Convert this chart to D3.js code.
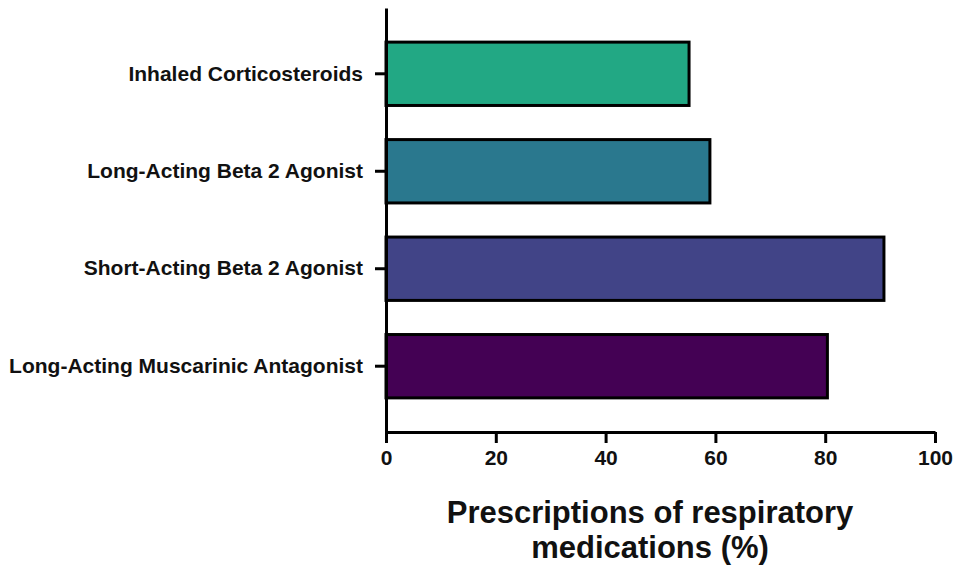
<!DOCTYPE html>
<html>
<head>
<meta charset="utf-8">
<script src="https://cdn.jsdelivr.net/npm/d3@7"></script>
<style>
  html, body { margin: 0; padding: 0; background: #fff; }
  svg { display: block; font-family: "Liberation Sans", Arial, sans-serif; }
</style>
</head>
<body>
<svg id="chart" width="955" height="568"></svg>
<script>
const categories = [
  "Inhaled Corticosteroids",
  "Long-Acting Beta 2 Agonist",
  "Short-Acting Beta 2 Agonist",
  "Long-Acting Muscarinic Antagonist"
];
const values = [55.2, 59.0, 90.7, 80.4];
const colors = ["#22a884", "#2a788e", "#414487", "#440154"];
const xTicks = [0, 20, 40, 60, 80, 100];
const titleLines = ["Prescriptions of respiratory", "medications (%)"];

const svg = d3.select("#chart");
const x0 = 386, x1 = 935, yTop = 8, yBottom = 432;

const x = d3.scaleLinear().domain([0, 100]).range([x0, x1]);
const y = d3.scaleBand().domain(categories).range([yTop, yBottom]).padding(0.35);

// bars
svg.append("g").selectAll("rect")
  .data(categories)
  .join("rect")
  .attr("x", x(0))
  .attr("y", d => y(d))
  .attr("width", (d, i) => x(values[i]) - x(0))
  .attr("height", y.bandwidth())
  .attr("fill", (d, i) => colors[i])
  .attr("stroke", "#000")
  .attr("stroke-width", 3);

// y axis
const gy = svg.append("g")
  .attr("transform", `translate(${x0},0)`)
  .call(d3.axisLeft(y).tickSize(11).tickSizeOuter(0).tickPadding(12));
gy.attr("font-family", "'Liberation Sans', Arial, sans-serif");
gy.select(".domain").attr("stroke-width", 3).attr("stroke", "#000");
gy.selectAll(".tick line").attr("stroke-width", 3).attr("stroke", "#000");
gy.selectAll(".tick text")
  .attr("font-size", 21).attr("font-weight", "bold").attr("fill", "#111");

// x axis
const gx = svg.append("g")
  .attr("transform", `translate(0,${yBottom})`)
  .call(d3.axisBottom(x).tickValues(xTicks).tickSize(11).tickSizeOuter(0).tickPadding(7));
gx.attr("font-family", "'Liberation Sans', Arial, sans-serif");
gx.select(".domain").attr("stroke-width", 3).attr("stroke", "#000");
gx.selectAll(".tick line").attr("stroke-width", 3).attr("stroke", "#000");
gx.selectAll(".tick text")
  .attr("font-size", 21).attr("font-weight", "bold").attr("fill", "#111");

// axis title
titleLines.forEach((t, i) => {
  svg.append("text")
    .attr("x", 650)
    .attr("y", 523 + i * 35)
    .attr("text-anchor", "middle")
    .attr("font-size", 31)
    .attr("font-weight", "bold")
    .attr("fill", "#111")
    .text(t);
});
</script>
</body>
</html>
